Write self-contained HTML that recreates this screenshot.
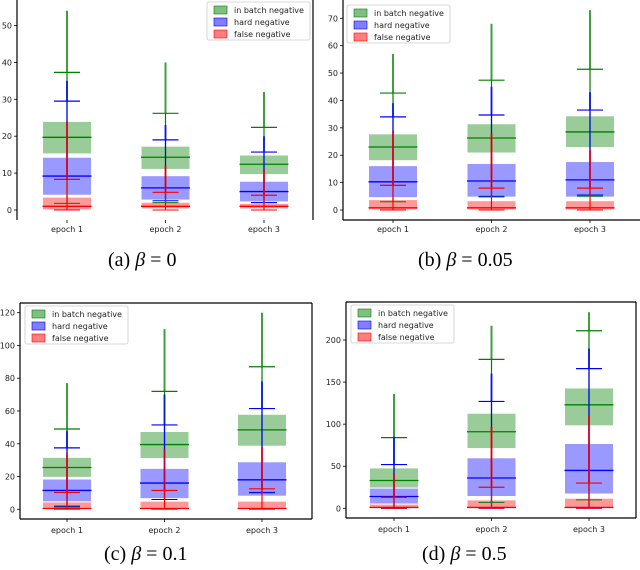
<!DOCTYPE html>
<html><head><meta charset="utf-8">
<style>
body{margin:0;background:#fff;}
svg{display:block;}
text{font-family:"DejaVu Sans","Liberation Sans",sans-serif;}
.cap{font-family:"Liberation Serif",serif;font-size:20px;fill:#000;}
</style></head>
<body>
<svg id="fig" width="640" height="570" viewBox="0 0 640 570">
<text class="cap" x="108" y="266">(a) <tspan font-style="italic">β</tspan> = 0</text>
<text class="cap" x="418" y="266">(b) <tspan font-style="italic">β</tspan> = 0.05</text>
<text class="cap" x="104" y="560">(c) <tspan font-style="italic">β</tspan> = 0.1</text>
<text class="cap" x="422" y="560">(d) <tspan font-style="italic">β</tspan> = 0.5</text>
</svg>
<script>
const categories = ["epoch 1","epoch 2","epoch 3"];
const seriesNames = ["in batch negative","hard negative","false negative"];
// per panel, per series, per epoch: [q1, median, q3, whiskerLow, whiskerHigh, outlierMax]
const panelA_green = [[15.2,19.7,24,1.8,37.3,54],[11,14.3,17.3,2,26.2,40],[9.6,12.4,14.9,2,22.4,32]];
const panelA_blue  = [[4,9.2,14.3,8.3,29.5,35],[2.7,6,9.3,2.5,19,23],[2.2,5,7.8,2,15.7,20]];
const panelA_red   = [[0,1,3.5,0,8.3,24],[0.3,1,2.1,0,4.8,12],[0.3,1,1.8,0,4,11]];
const panelB_green = [[18,23,27.8,3,42.7,57],[20.8,26.3,31.5,5,47.4,68],[22.8,28.5,34.4,5,51.4,73]];
const panelB_blue  = [[4.5,10.3,16.2,9,34,39],[4.7,10.6,17,4.8,34.7,45],[4.7,11,17.7,5.5,36.5,43]];
const panelB_red   = [[0,0.8,3.8,0,9,29],[0,0.8,3.4,0,8,28],[0,0.8,3.4,0,8,22]];
const panelC_green = [[19.5,25.5,31.7,2,49,77],[31,39.5,47.5,6,72,110],[38.5,48.5,58,10,87,120]];
const panelC_blue  = [[4.5,11.5,18.5,1.5,37.5,48],[6.5,16,25,6,51.5,70],[8,18,29,10.3,61.5,78]];
const panelC_red   = [[0,0.5,4.5,0,10.3,34],[0,0.5,5,0,11.5,37],[0,0.5,5,0,12.5,38]];
const panelD_green = [[24,33,48,0,84,136],[71,91,113,7,177,217],[98,123,143,10,211,233]];
const panelD_blue  = [[5,14,24,0,52,85],[14,36,60,0,127,160],[17,45,77,0,166,190]];
const panelD_red   = [[0,1,5,0,13,42],[0,1,10,0,25,97],[0,1,12,0,30,110]];
const ticksA = [0,10,20,30,40,50];
const ticksB = [0,10,20,30,40,50,60,70];
const ticksC = [0,20,40,60,80,100,120];
const ticksD = [0,50,100,150,200];

const colors=["#008000","#0000ff","#ff0000"];
const fills=["rgba(0,128,0,0.4)","rgba(0,0,255,0.4)","rgba(255,0,0,0.4)"];
const NS="http://www.w3.org/2000/svg";
const svg=document.getElementById('fig');
function mk(tag,attrs,parent){const e=document.createElementNS(NS,tag);for(const k in attrs)e.setAttribute(k,attrs[k]);(parent||svg).appendChild(e);return e;}

function panel(id,cfg,data,ticks){
  const g=mk('g',{});
  
  
  const y=v=>cfg.y0-(v/cfg.vmax)*(cfg.y0-cfg.yTop);
  const x=i=>cfg.xs[0]+i*(cfg.xs[2]-cfg.xs[0])/2;
  // frame
  if(cfg.left){const l=mk('line',{x1:cfg.L,y1:cfg.T,x2:cfg.L,y2:cfg.B,stroke:'#000','stroke-width':1.2},g);}
  if(cfg.right){const l=mk('line',{x1:cfg.R,y1:cfg.T,x2:cfg.R,y2:cfg.B,stroke:'#000','stroke-width':1.2},g);}
  if(cfg.bottom){const l=mk('line',{x1:cfg.L,y1:cfg.B,x2:cfg.R,y2:cfg.B,stroke:'#000','stroke-width':1.2},g);}
  if(cfg.top){const l=mk('line',{x1:cfg.L,y1:cfg.T,x2:cfg.R,y2:cfg.T,stroke:'#000','stroke-width':1.2},g);}
  ticks.forEach(t=>{
    mk('line',{x1:cfg.L-3,x2:cfg.L,y1:y(t),y2:y(t),stroke:'#000','stroke-width':0.8},g);
    const tx=mk('text',{x:cfg.L-5,y:y(t)+3,'font-size':8,'text-anchor':'end',fill:'#222'},g);
    tx.textContent=t;
    
    
  });
  categories.forEach((c,i)=>{
    mk('line',{x1:x(i),x2:x(i),y1:cfg.B,y2:cfg.B+3,stroke:'#000','stroke-width':0.8},g);
    const tx=mk('text',{x:x(i),y:cfg.labY,'font-size':8,'text-anchor':'middle',fill:'#222'},g);
    tx.textContent=c;
    
    
  });
  const bw=49,cw=26;
  data.forEach((ser,s)=>{
    ser.forEach((d,i)=>{
      const [q1,med,q3,lo,hi,omax]=d;const cx=x(i);
      const r=mk('rect',{x:cx-bw/2,y:y(q3),width:bw,height:Math.max(1,y(q1)-y(q3)),fill:fills[s],stroke:'#fff','stroke-width':1},g);
      
      
      mk('line',{x1:cx-bw/2,x2:cx+bw/2,y1:y(med),y2:y(med),stroke:colors[s],'stroke-width':1.3},g);
    });
  });
  data.forEach((ser,s)=>{
    ser.forEach((d,i)=>{
      const [q1,med,q3,lo,hi,omax]=d;const cx=x(i);
      const o=mk('line',{x1:cx,x2:cx,y1:y(hi),y2:y(omax),stroke:colors[s],'stroke-width':2,opacity:0.75},g);
      
      
      mk('line',{x1:cx,x2:cx,y1:y(lo),y2:y(hi),stroke:colors[s],'stroke-width':1.2},g);
      mk('line',{x1:cx-cw/2,x2:cx+cw/2,y1:y(hi),y2:y(hi),stroke:colors[s],'stroke-width':1.2},g);
      mk('line',{x1:cx-cw/2,x2:cx+cw/2,y1:y(lo),y2:y(lo),stroke:colors[s],'stroke-width':1},g);
    });
  });
  // legend
  const lg=mk('g',{},g);
  
  
  mk('rect',{x:cfg.lx,y:cfg.ly,width:103,height:38,fill:'#fff',stroke:'#ccc','stroke-width':0.8,rx:2},lg);
  seriesNames.forEach((n,s)=>{
    mk('rect',{x:cfg.lx+7,y:cfg.ly+4+s*12,width:13,height:8,fill:fills[s].replace('0.4','0.5'),stroke:colors[s],'stroke-width':0.6},lg);
    const t=mk('text',{x:cfg.lx+27,y:cfg.ly+11+s*12,'font-size':8,fill:'#222'},lg);
    t.textContent=n;
    
    
  });
}
panel('a',{L:17,R:313,T:0,B:220,y0:210,yTop:25.5,vmax:50,xs:[67,165,264],labY:232,left:true,right:true,lx:207,ly:2},[panelA_green,panelA_blue,panelA_red],ticksA);
panel('b',{L:343,R:640,T:0,B:220,y0:210,yTop:18.3,vmax:70,xs:[393,492,590],labY:232,left:true,bottom:true,lx:347,ly:5},[panelB_green,panelB_blue,panelB_red],ticksB);
panel('c',{L:20,R:312,T:303,B:519,y0:509.3,yTop:312.7,vmax:120,xs:[67,165,262],labY:533,left:true,right:true,bottom:true,top:true,lx:25,ly:306},[panelC_green,panelC_blue,panelC_red],ticksC);
panel('d',{L:346,R:636,T:302,B:518,y0:508.3,yTop:340,vmax:200,xs:[394,492,589],labY:532,left:true,right:true,bottom:true,top:true,lx:351,ly:305},[panelD_green,panelD_blue,panelD_red],ticksD);
</script>
</body></html>
